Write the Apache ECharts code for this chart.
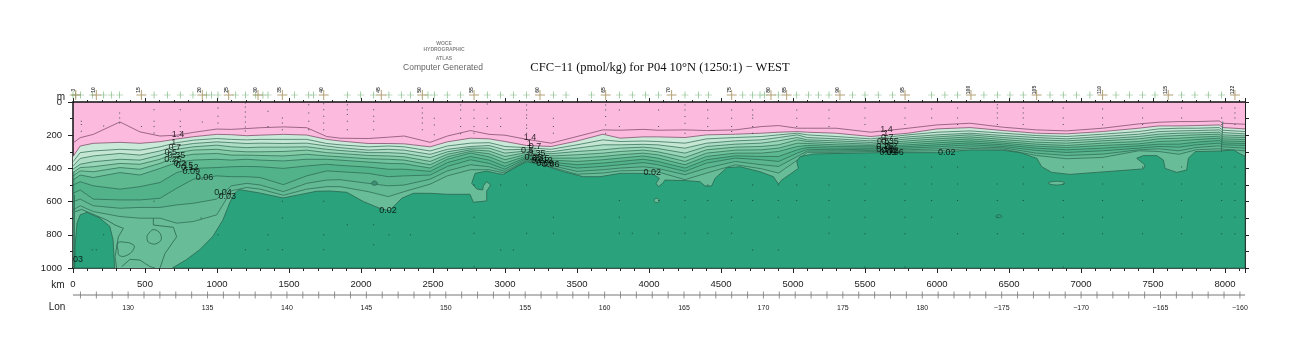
<!DOCTYPE html>
<html>
<head>
<meta charset="utf-8">
<title>CFC-11 section P04</title>
<script src="https://cdn.jsdelivr.net/npm/echarts@6/dist/echarts.min.js"></script>
<style>
  html, body { margin: 0; padding: 0; background: #fff; }
  #chart { width: 1300px; height: 350px; }
</style>
</head>
<body>
<div id="chart"></div>
<script>
// distance along the section, km, shared by all the contour arrays below
const contourKm = [0, 50, 141, 326, 465, 604, 720, 836, 998, 1100, 1206, 1300, 1461, 1623, 1762, 1855, 2050, 2190, 2300, 2480, 2600, 2760, 2890, 3000, 3150, 3320, 3500, 3680, 3800, 3960, 4060, 4250, 4400, 4600, 4780, 4900, 5030, 5100, 5300, 5540, 5800, 6000, 6230, 6460, 6690, 6900, 7150, 7400, 7540, 7680, 7800, 7960, 7985, 8139];

// contour depths, m, top to bottom
const depth14 = [247, 215, 195, 120, 180, 205, 200, 183, 163, 165, 160, 155, 150, 155, 208, 218, 220, 212, 205, 243, 205, 172, 195, 200, 225, 248, 208, 168, 170, 165, 170, 168, 172, 168, 148, 142, 158, 158, 158, 182, 158, 138, 128, 152, 168, 174, 158, 132, 122, 118, 118, 114, 128, 134];
const depth10 = [329, 265, 249, 243, 249, 239, 223, 209, 195, 197, 203, 200, 195, 199, 225, 235, 250, 250, 252, 270, 240, 218, 222, 238, 262, 268, 235, 194, 218, 210, 210, 214, 198, 194, 188, 182, 178, 182, 188, 208, 188, 162, 154, 172, 188, 192, 178, 158, 144, 144, 142, 138, 154, 162];
const depth07 = [360, 305, 295, 285, 290, 270, 245, 230, 220, 225, 228, 225, 225, 225, 250, 258, 270, 265, 270, 295, 265, 248, 245, 268, 275, 285, 258, 228, 238, 235, 238, 248, 222, 214, 208, 198, 188, 198, 208, 222, 198, 182, 174, 188, 202, 208, 194, 178, 162, 158, 158, 154, 170, 178];
const depth05 = [385, 340, 325, 310, 320, 295, 265, 250, 240, 245, 250, 248, 250, 248, 265, 275, 290, 285, 290, 315, 285, 268, 262, 288, 285, 300, 278, 258, 258, 255, 258, 278, 248, 234, 228, 214, 198, 214, 222, 234, 210, 198, 188, 202, 214, 222, 208, 194, 178, 174, 172, 168, 184, 192];
const depth035 = [405, 375, 360, 345, 350, 320, 285, 270, 260, 270, 275, 272, 272, 270, 285, 292, 305, 305, 310, 335, 300, 278, 278, 308, 295, 312, 298, 288, 278, 272, 280, 308, 268, 254, 248, 234, 214, 228, 234, 244, 222, 210, 198, 214, 228, 234, 222, 208, 194, 188, 186, 182, 198, 204];
const depth025 = [425, 395, 390, 370, 375, 345, 305, 290, 285, 295, 300, 300, 298, 290, 305, 310, 322, 325, 330, 358, 315, 288, 295, 328, 305, 325, 318, 308, 298, 290, 300, 334, 288, 272, 268, 258, 228, 238, 246, 254, 234, 222, 210, 226, 242, 248, 234, 222, 208, 202, 198, 194, 210, 214];
const depth02 = [445, 415, 420, 395, 405, 370, 330, 315, 310, 320, 320, 322, 325, 315, 325, 330, 342, 345, 350, 378, 330, 298, 312, 348, 315, 338, 338, 328, 318, 308, 318, 358, 308, 290, 288, 278, 248, 250, 258, 262, 246, 234, 222, 238, 254, 262, 248, 238, 222, 218, 212, 206, 222, 226];
const depth015 = [470, 440, 455, 425, 440, 400, 365, 350, 345, 350, 345, 350, 355, 345, 345, 350, 362, 370, 372, 398, 345, 308, 330, 368, 325, 350, 358, 348, 338, 325, 338, 378, 328, 308, 308, 298, 268, 262, 268, 270, 258, 246, 234, 248, 266, 274, 262, 252, 238, 234, 226, 218, 234, 238];
const depth009 = [500, 480, 505, 525, 510, 485, 425, 400, 395, 390, 388, 390, 400, 385, 375, 382, 392, 405, 405, 418, 365, 328, 350, 388, 333, 362, 378, 368, 358, 345, 358, 398, 348, 324, 328, 328, 288, 274, 278, 278, 268, 258, 246, 258, 278, 288, 278, 264, 254, 254, 242, 232, 246, 250];
const depth006 = [550, 530, 585, 590, 590, 580, 520, 465, 445, 450, 450, 455, 498, 445, 415, 420, 430, 450, 445, 440, 388, 348, 370, 405, 340, 372, 398, 388, 378, 365, 378, 418, 368, 338, 348, 358, 308, 285, 288, 284, 278, 270, 258, 268, 292, 304, 294, 278, 268, 272, 258, 248, 258, 262];
const depth004 = [600, 585, 625, 640, 635, 635, 620, 610, 585, 505, 490, 500, 540, 490, 470, 468, 490, 505, 500, 465, 415, 378, 390, 418, 348, 382, 418, 408, 398, 390, 400, 438, 398, 358, 378, 388, 328, 295, 295, 292, 288, 282, 270, 276, 308, 322, 314, 288, 282, 294, 274, 264, 270, 278];
const depth003 = [650, 625, 660, 690, 700, 700, 730, 720, 680, 535, 515, 525, 562, 525, 510, 510, 540, 570, 540, 495, 445, 408, 408, 428, 354, 392, 435, 428, 415, 412, 420, 468, 428, 378, 402, 428, 350, 303, 303, 298, 296, 294, 280, 284, 322, 342, 334, 294, 298, 315, 288, 282, 284, 294];

const contourLevels = [depth14, depth10, depth07, depth05, depth035, depth025, depth02, depth015, depth009, depth006, depth004, depth003];
const bandColors = [null, '#cbe9d8', '#c4e6d3', '#aeddc5', '#99d5b7', '#84cca8', '#70c39c', '#5eb990', '#52b28a', '#5bb68f', '#62b993', '#68bc97'];

// lowest contour, outline of the deep water
const deepOutline = [[690, 1000], [787, 950], [880, 890], [972, 809], [1042, 709], [1088, 608], [1123, 548], [1157, 528], [1296, 548], [1458, 578], [1574, 558], [1690, 538], [1785, 536], [1901, 544], [2017, 600], [2132, 641], [2197, 655], [2283, 580], [2364, 550], [2480, 550], [2595, 556], [2757, 556], [2780, 604], [2873, 596], [2873, 536], [2901, 500], [2873, 480], [2850, 504], [2845, 530], [2804, 524], [2769, 490], [2792, 430], [2873, 416], [2943, 430], [2989, 436], [3081, 390], [3151, 360], [3266, 380], [3406, 420], [3544, 450], [3660, 450], [3799, 430], [3961, 430], [4030, 436], [4072, 460], [4049, 490], [4065, 510], [4095, 490], [4111, 470], [4262, 474], [4354, 480], [4389, 506], [4435, 506], [4459, 460], [4540, 396], [4632, 390], [4771, 420], [4864, 450], [4899, 494], [4922, 470], [5038, 400], [5026, 360], [5049, 330], [5141, 313], [5373, 309], [5605, 305], [5998, 305], [6230, 289], [6461, 291], [6577, 305], [6693, 339], [6727, 390], [6797, 424], [6924, 436], [7109, 424], [7433, 403], [7445, 380], [7387, 339], [7433, 323], [7526, 323], [7572, 349], [7584, 400], [7665, 424], [7734, 410], [7746, 339], [7792, 299], [7966, 295], [8058, 289], [8128, 323], [8139, 325], [8139, 1000]];
const deepLeftBlob = [[12, 1000], [14, 870], [28, 729], [51, 679], [97, 665], [185, 699], [255, 749], [278, 829], [289, 1000]];

// closed contours
const islandLeftA = [[312, 849], [359, 845], [417, 859], [424, 880], [382, 920], [324, 926], [312, 890]];
const islandLeftB = [[567, 769], [613, 809], [590, 849], [532, 849], [514, 819], [528, 789]];
const islandDark = [[2074, 490], [2093, 476], [2114, 490], [2093, 502]];
const islandLight1 = [[4035, 594], [4054, 580], [4072, 594], [4054, 606]];
const islandLight2 = [[6773, 488], [6831, 478], [6889, 488], [6831, 500]];
const islandLight3 = [[6407, 689], [6428, 679], [6451, 689], [6428, 697]];

// open contour pieces in the far west
const pathWest1 = [[14, 661], [60, 647], [234, 711], [292, 741], [350, 761], [315, 812], [292, 932], [303, 1000]];
const pathWest2 = [[338, 992], [396, 948], [465, 952], [535, 992], [570, 1000]];
const pathWest3 = [[604, 1000], [639, 912], [720, 812], [697, 755], [558, 741], [558, 700]];
const pathWall1 = [[5, 420], [5, 1000]];
const pathWall2 = [[10, 560], [9, 1000]];
const pathStep = [[7985, 118], [7975, 300]];

// contour labels
const labelKm = [729, 699, 706, 678, 718, 694, 741, 775, 810, 822, 914, 1042, 1072, 2187, 35, 3173, 3169, 3208, 3155, 3220, 3197, 3248, 3225, 3271, 3278, 3317, 4023, 5650, 5645, 5655, 5627, 5673, 5639, 5680, 5639, 5673, 5662, 5708, 6067];
const labelDepth = [197, 247, 273, 303, 323, 347, 371, 384, 395, 418, 452, 548, 570, 655, 950, 215, 249, 269, 293, 313, 333, 339, 351, 353, 369, 379, 426, 167, 190, 211, 241, 241, 267, 267, 287, 291, 303, 303, 303];
const labelText = ['1.4', '1', '0.7', '0.5', '0.35', '0.25', '0.2', '0.15', '0.12', '0.09', '0.06', '0.04', '0.03', '0.02', '03', '1.4', '1', '0.7', '0.5', '0.35', '0.25', '0.15', '0.2', '0.12', '0.09', '0.06', '0.02', '1.4', '1', '0.7', '0.5', '0.35', '0.25', '0.2', '0.15', '0.12', '0.09', '0.06', '0.02'];

// stations along the top
const stationKm = [0, 19, 53, 134, 213, 266, 324, 563, 655, 745, 833, 926, 961, 1007, 1130, 1197, 1269, 1319, 1354, 1539, 1637, 1671, 1905, 1998, 2088, 2194, 2280, 2343, 2465, 2509, 2599, 2692, 2877, 2970, 3058, 3150, 3336, 3424, 3602, 3794, 3884, 3977, 4067, 4250, 4343, 4412, 4651, 4720, 4771, 4801, 4898, 5026, 5107, 5176, 5250, 5414, 5500, 5592, 5690, 5963, 6055, 6143, 6326, 6419, 6507, 6599, 6785, 6877, 6970, 7062, 7243, 7336, 7428, 7514, 7699, 7791, 7884, 7977];
const markedStationKm = [19, 162, 475, 898, 1081, 1285, 1454, 1741, 2141, 2426, 2785, 3243, 3699, 4157, 4574, 4847, 4956, 5326, 5778, 6236, 6692, 7150, 7606, 8069];
const markedStationNo = ['3', '10', '15', '20', '25', '30', '35', '40', '45', '50', '55', '60', '65', '70', '75', '80', '85', '90', '95', '100', '105', '110', '115', '122'];

// bottle samples, [km, depths]
const sampleColumns = [
  [58, [116, 136, 176]], [213, [145]], [324, [66, 96, 126]], [475, [147]], [563, [46, 116, 147, 187]],
  [745, [46, 116, 147, 177]], [898, [120]], [1007, [36, 86, 126]], [1197, [6, 30, 60, 90, 120, 150, 175]],
  [1354, [56, 147]], [1454, [96, 126, 167]], [1637, [16, 66, 116, 167]], [1741, [10, 46, 86, 126, 167]],
  [1905, [16, 46, 76, 116, 167]], [2088, [46, 86, 116, 167]], [2426, [36, 66, 96, 126, 167]],
  [2509, [98, 138, 198]], [2692, [18, 48, 98, 148, 192]], [2785, [48, 98, 148, 188]], [2877, [12, 98, 148]],
  [2970, [98, 148]], [3150, [18, 48, 78, 98, 138, 158, 188]], [3336, [98, 148, 188]],
  [3699, [18, 48, 88, 138, 188]], [3794, [48, 148]], [4067, [48, 148]], [4250, [18, 48, 88, 128, 188]],
  [4408, [48, 98, 148]], [4574, [48, 98, 148, 178]], [4720, [48, 78, 98, 148, 188]], [5026, [48, 98, 148]],
  [5250, [48, 98, 148]], [5500, [36, 96, 136]], [5778, [36, 96, 136]], [5963, [42, 96]], [6143, [36, 96, 136]],
  [6419, [16, 36, 66, 96, 136]], [6599, [36, 66, 96, 136]], [6877, [36, 96, 136]], [7150, [42, 96, 137]],
  [7428, [36, 96, 136]], [7699, [36, 96]], [7977, [36, 96, 136]], [8069, [36, 66, 96, 136]],
  [2785, [500, 694, 791, 992]], [2970, [500, 891]], [3150, [500, 791]], [3058, [891]], [3336, [694, 791]],
  [3794, [594, 694, 791]], [3884, [791]], [4067, [594, 791]], [4250, [594, 694, 791]], [4408, [500, 594, 791]],
  [4574, [594, 694, 791]], [4720, [500, 594, 891]], [4898, [500, 594, 694, 891]], [5026, [500, 594]],
  [5250, [500, 594, 694, 791]], [5500, [391, 494, 594, 695, 793, 994]], [5778, [391, 494, 594, 695, 793, 994]],
  [5963, [391, 494, 594, 695]], [6143, [391, 494, 594, 793]], [6419, [494, 594, 695, 793]],
  [6599, [391, 494, 594, 793]], [6877, [391, 494, 594, 695, 793, 994]], [7150, [391, 494, 594, 695, 793]],
  [7428, [391, 494, 594, 793]], [7699, [391, 494, 594, 695, 793]], [7977, [391, 494, 594, 695, 793]],
  [8069, [391, 494, 594, 695, 793]],
  [563, [598]], [890, [699]], [1454, [598, 699, 890]], [1741, [598, 799, 890]], [1905, [739]], [2088, [739, 860]],
  [2194, [799]], [2343, [799]], [1007, [799]], [1197, [890]], [1354, [799, 890]], [213, [799]], [134, [890]], [162, [890]]
];

const lonMin = 126.53;
const lonMax = 200.32;
const lonMajor = [130, 135, 140, 145, 150, 155, 160, 165, 170, 175, 180, 185, 190, 195, 200];

const kmMax = 8139;
const deepColor = '#2aa37c';
const lineColor = '#2a6650';
const dots = [];
sampleColumns.forEach(c => c[1].forEach(d => dots.push([c[0], d])));
const lonMinor = [];
for (let lon = 127; lon <= 200; lon++) lonMinor.push([lon, 0]);

// filled or open outline drawn through the axes
function shapeSeries(name, points, fill, z, closed, smooth) {
  return {
    name,
    type: 'custom',
    xAxisIndex: 0,
    yAxisIndex: 0,
    z,
    silent: true,
    data: [0],
    renderItem(params, api) {
      const pts = points.map(p => api.coord(p));
      return {
        type: closed ? 'polygon' : 'polyline',
        shape: { points: pts, smooth: smooth || 0 },
        style: { fill: closed ? fill : null, stroke: lineColor, lineWidth: 0.8 },
      };
    },
  };
}

const series = contourLevels.map((level, i) => ({
  name: 'c' + i,
  type: 'line',
  xAxisIndex: 0,
  yAxisIndex: 0,
  silent: true,
  symbol: 'none',
  z: 2 + i * 0.01,
  data: contourKm.map((km, j) => [km, level[j]]),
  lineStyle: { color: i < 2 ? '#74405f' : lineColor, width: 0.7 },
  areaStyle: bandColors[i] ? { color: bandColors[i], opacity: 1, origin: 'end' } : undefined,
}));

series.push(
  shapeSeries('deep', deepOutline, deepColor, 3, true),
  shapeSeries('deepLeft', deepLeftBlob, deepColor, 3, true),
  shapeSeries('islandLeftA', islandLeftA, 'rgba(0,0,0,0)', 4, true, 0.5),
  shapeSeries('islandLeftB', islandLeftB, 'rgba(0,0,0,0)', 4, true, 0.5),
  shapeSeries('islandDark', islandDark, '#3f8f74', 4, true, 0.5),
  shapeSeries('islandLight1', islandLight1, '#68bc97', 4, true, 0.5),
  shapeSeries('islandLight2', islandLight2, '#68bc97', 4, true, 0.5),
  shapeSeries('islandLight3', islandLight3, '#2aa37c', 4, true, 0.5),
  shapeSeries('west1', pathWest1, null, 4, false),
  shapeSeries('west2', pathWest2, null, 4, false),
  shapeSeries('west3', pathWest3, null, 4, false),
  shapeSeries('wall1', pathWall1, null, 4, false),
  shapeSeries('wall2', pathWall2, null, 4, false),
  shapeSeries('step', pathStep, null, 4, false)
);

series.push({
  name: 'samples',
  type: 'scatter',
  xAxisIndex: 0,
  yAxisIndex: 0,
  silent: true,
  z: 5,
  symbol: 'rect',
  symbolSize: 1,
  itemStyle: { color: '#14352a' },
  data: dots,
});

series.push({
  name: 'contourLabels',
  type: 'scatter',
  xAxisIndex: 0,
  yAxisIndex: 0,
  silent: true,
  z: 6,
  symbolSize: 0,
  label: {
    show: true,
    position: 'inside',
    fontFamily: 'Liberation Sans',
    fontSize: 9,
    color: '#000',
    formatter: p => p.data[2],
  },
  data: labelKm.map((km, i) => [km, labelDepth[i], labelText[i]]),
});

series.push({
  name: 'stations',
  type: 'scatter',
  xAxisIndex: 2,
  yAxisIndex: 2,
  silent: true,
  symbol: 'path://M4.5 0h1v4.5h4.5v1h-4.5v4.5h-1v-4.5h-4.5v-1h4.5z',
  symbolSize: 7,
  itemStyle: { color: '#5fa765' },
  data: stationKm.map(km => [km, 0.5]),
}, {
  name: 'markedStations',
  type: 'scatter',
  xAxisIndex: 2,
  yAxisIndex: 2,
  silent: true,
  symbol: 'path://M4.5 0h1v4.5h4.5v1h-4.5v4.5h-1v-4.5h-4.5v-1h4.5z',
  symbolSize: 10,
  itemStyle: { color: '#a08a55' },
  label: {
    show: true,
    position: 'top',
    distance: 0,
    rotate: 90,
    fontFamily: 'Liberation Sans',
    fontSize: 5,
    fontWeight: 'bold',
    color: '#111',
    formatter: p => p.data[2],
  },
  data: markedStationKm.map((km, i) => [km, 0.5, markedStationNo[i]]),
});

series.push({
  name: 'lonLine',
  type: 'line',
  xAxisIndex: 3,
  yAxisIndex: 3,
  silent: true,
  symbol: 'none',
  lineStyle: { color: '#777', width: 1 },
  data: [[lonMin, 0], [lonMax, 0]],
}, {
  name: 'lonTicks',
  type: 'scatter',
  xAxisIndex: 3,
  yAxisIndex: 3,
  silent: true,
  symbol: 'rect',
  symbolSize: [1, 7],
  itemStyle: { color: '#777' },
  data: lonMinor,
});

const option = {
  animation: false,
  backgroundColor: '#fff',
  textStyle: { fontFamily: 'Liberation Sans' },
  title: [
    { text: 'CFC\u221211 (pmol/kg) for P04 10\u00b0N (1250:1) \u2212 WEST', left: 655, top: 56, textAlign: 'center', textStyle: { fontFamily: 'Liberation Serif', fontSize: 12.5, fontWeight: 'normal', color: '#111' } },
    { text: 'WOCE', left: 439, top: 36, textAlign: 'center', textStyle: { fontSize: 5, fontWeight: 'bold', color: '#888' } },
    { text: 'HYDROGRAPHIC', left: 439, top: 42, textAlign: 'center', textStyle: { fontSize: 5, fontWeight: 'bold', color: '#888' } },
    { text: 'ATLAS', left: 439, top: 51, textAlign: 'center', textStyle: { fontSize: 5, fontWeight: 'bold', color: '#888' } },
    { text: 'Computer Generated', left: 438, top: 58, textAlign: 'center', textStyle: { fontSize: 8.5, fontWeight: 'normal', color: '#666' } },
    { text: 'm', left: 56, top: 87, textAlign: 'center', textStyle: { fontSize: 10, fontWeight: 'normal', color: '#222' } },
    { text: 'km', left: 53, top: 275, textAlign: 'center', textStyle: { fontSize: 10, fontWeight: 'normal', color: '#222' } },
    { text: 'Lon', left: 52, top: 297, textAlign: 'center', textStyle: { fontSize: 10, fontWeight: 'normal', color: '#222' } },
  ],
  grid: [
    { left: 73, right: 55, top: 102, height: 166, show: true, backgroundColor: '#fbbade', borderWidth: 0 },
    { left: 73, right: 55, top: 90, height: 10 },
    { left: 73, right: 55, top: 291, height: 8 },
  ],
  xAxis: [
    {
      type: 'value', gridIndex: 0, position: 'bottom', min: 0, max: kmMax, interval: 500,
      splitLine: { show: false },
      axisLine: { onZero: false, lineStyle: { color: '#111', width: 1.5 } },
      axisTick: { length: 5, lineStyle: { color: '#222' } },
      minorTick: { show: true, splitNumber: 5, length: 3, lineStyle: { color: '#222' } },
      axisLabel: { margin: 11, fontSize: 9.5, color: '#222', showMaxLabel: false, formatter: v => String(v) },
    },
    {
      type: 'value', gridIndex: 0, position: 'top', min: 0, max: kmMax, interval: 500,
      splitLine: { show: false },
      axisLine: { onZero: false, lineStyle: { color: '#111', width: 1.5 } },
      axisTick: { length: 4, lineStyle: { color: '#222' } },
      minorTick: { show: true, splitNumber: 5, length: 2, lineStyle: { color: '#222' } },
      axisLabel: { show: false },
    },
    { type: 'value', gridIndex: 1, min: 0, max: kmMax, show: false },
    {
      type: 'value', gridIndex: 2, min: lonMin, max: lonMax,
      splitLine: { show: false },
      axisLine: { show: false, onZero: false },
      axisTick: { show: false },
      axisLabel: {
        margin: 6,
        fontSize: 7,
        color: '#222',
        customValues: lonMajor,
        formatter: v => (v > 180 ? '\u2212' + (360 - v) : String(v)),
      },
    },
  ],
  yAxis: [
    {
      type: 'value', gridIndex: 0, inverse: true, min: 0, max: 1000, interval: 200,
      position: 'left',
      splitLine: { show: false },
      axisLine: { onZero: false, lineStyle: { color: '#111', width: 1.5 } },
      axisTick: { length: 5, lineStyle: { color: '#222' } },
      minorTick: { show: true, splitNumber: 2, length: 3, lineStyle: { color: '#222' } },
      axisLabel: { margin: 11, fontSize: 9.5, color: '#222', formatter: v => String(v) },
    },
    {
      type: 'value', gridIndex: 0, inverse: true, min: 0, max: 1000, interval: 100,
      position: 'right',
      splitLine: { show: false },
      axisLine: { onZero: false, lineStyle: { color: '#222', width: 1 } },
      axisTick: { length: 4, lineStyle: { color: '#222' } },
      axisLabel: { show: false },
    },
    { type: 'value', gridIndex: 1, min: 0, max: 1, show: false },
    { type: 'value', gridIndex: 2, min: -1, max: 1, show: false },
  ],
  series,
};

const myChart = echarts.init(document.getElementById('chart'), null, { renderer: 'canvas' });
myChart.setOption(option);
</script>
</body>
</html>
